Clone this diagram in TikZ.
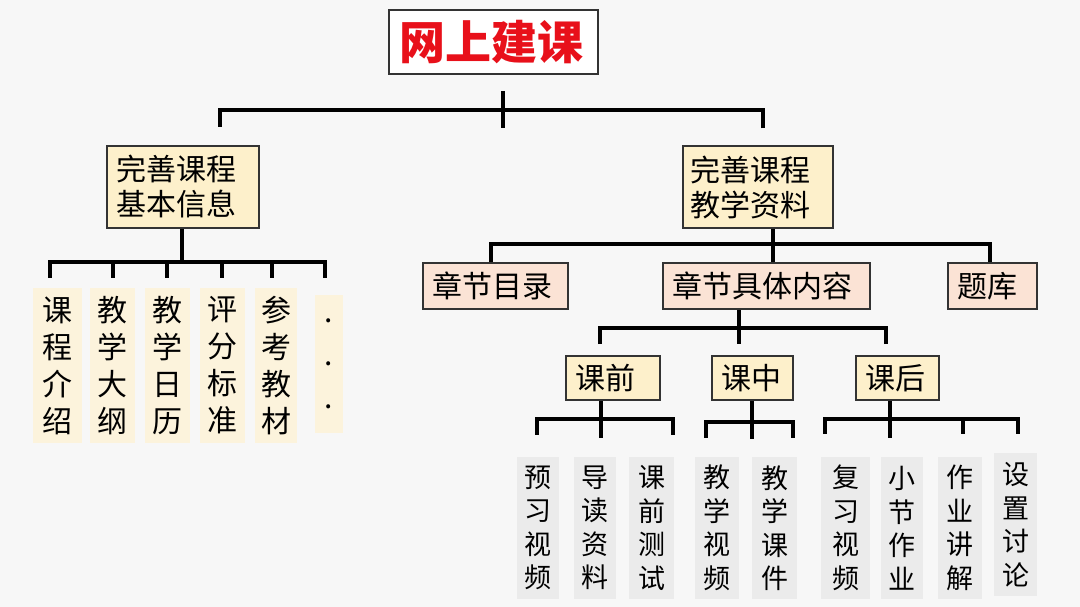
\documentclass[tikz,border=0pt]{standalone}
\usepackage{fontspec}
\setmainfont{Noto Sans CJK SC}
\usepackage{tikz}
\definecolor{bg}{HTML}{F7F7F7}
\definecolor{boxyellow}{HTML}{FDF0CB}
\definecolor{boxpeach}{HTML}{FBE3D5}
\definecolor{colyellow}{HTML}{FCF3DC}
\definecolor{colgray}{HTML}{EBEBEB}
\definecolor{titlered}{HTML}{E8101A}
\definecolor{edge}{HTML}{333333}
\tikzset{%
  every box/.style={
    draw=edge,
    line width=2pt,
    inner xsep=9pt,
    inner ysep=0pt,
    align=left,
    font=\fontsize{30}{35}\selectfont
  },
  box size/.style 2 args={text width=#1-18pt, minimum height=#2},
  title box/.style={every box, fill=white, text=titlered,
    font=\fontsize{46}{50}\selectfont\bfseries},
  yellow box/.style={every box, fill=boxyellow},
  peach box/.style={every box, fill=boxpeach},
  info column/.style={
    fill=colyellow,
    inner sep=0pt,
    align=center,
    font=\fontsize{30}{37}\selectfont
  },
  lesson column/.style={
    fill=colgray,
    inner sep=0pt,
    align=center,
    font=\fontsize{27}{33.5}\selectfont
  },
  bus/.style={line width=4pt, black},
}

\begin{document}
\begin{tikzpicture}[x=1pt, y=-1pt]
\fill[bg] (0,0) rectangle (1080,607);

% top level
\node[title box, box size={209pt}{64pt}, inner xsep=10pt, text width=189pt] (title) at (493.5,42) {网上建课};
\node[yellow box, box size={152pt}{82pt}] (basic) at (183,187) {完善课程\\基本信息};
\node[yellow box, box size={150pt}{82pt}, inner xsep=7pt, text width=136pt] (material) at (758,187.5) {完善课程\\教学资料};

\coordinate (tbus) at (503,110);
\draw[bus] ([xshift=9.5pt,yshift=-16pt]title.south) -- ++(0,37);
\draw[bus] ([xshift=37pt,yshift=18pt]basic.north) |- (tbus);
\draw[bus] ([xshift=5pt,yshift=17pt]material.north) |- (tbus);

% basic information
\foreach \x/\w/\dx/\t [count=\i] in {57.5/49/-7.5/{课\\程\\介\\绍}, 112.5/45/0.5/{教\\学\\大\\纲},
    167.5/45/-0.5/{教\\学\\日\\历}, 222.5/45/-0.5/{评\\分\\标\\准}, 276/42/-4/{参\\考\\教\\材}}
    \node[info column, minimum width=\w pt, minimum height=155pt] (col_\i) at (\x,365.5) {\t};
\node[info column, minimum width=28pt, minimum height=138pt, font=\fontsize{30}{43}\selectfont] (col_6) at (329,364) {.\\.\\.};

\coordinate (lbus) at (182,262);
\draw[bus] ([xshift=-1pt]basic.south) -- (lbus);
\draw[bus] ([xshift=-7.5pt,yshift=10pt]col_1.north) |- (lbus);
\draw[bus] ([xshift=0.5pt,yshift=10pt]col_2.north) |- (lbus);
\draw[bus] ([xshift=-0.5pt,yshift=10pt]col_3.north) |- (lbus);
\draw[bus] ([xshift=-0.5pt,yshift=10pt]col_4.north) |- (lbus);
\draw[bus] ([xshift=-4pt,yshift=10pt]col_5.north) |- (lbus);
\draw[bus] ([xshift=-4pt,yshift=17pt]col_6.north) |- (lbus);

% teaching material
\node[peach box, box size={145pt}{46pt}] (catalog) at (495.5,286) {章节目录};
\node[peach box, box size={207pt}{46pt}] (content) at (766.5,286) {章节具体内容};
\node[peach box, box size={89pt}{46pt}] (bank) at (992.5,286) {题库};

\coordinate (mbus) at (773,244);
\draw[bus] ([xshift=15pt]material.south) -- ([xshift=6.5pt]content.north);
\draw[bus] ([xshift=-4.5pt]catalog.north) |- (mbus);
\draw[bus] ([xshift=-2.5pt]bank.north) |- (mbus);

% chapter content
\node[yellow box, box size={94pt}{44pt}] (pre) at (613,378) {课前};
\node[yellow box, box size={81pt}{44pt}] (mid) at (752.5,378) {课中};
\node[yellow box, box size={83pt}{44pt}] (post) at (897.5,378) {课后};

\coordinate (cbus) at (739,328);
\draw[bus] ([xshift=-27.5pt]content.south) -- ++(0,34);
\draw[bus] ([xshift=-13pt,yshift=11pt]pre.north) |- (cbus);
\draw[bus] ([xshift=-11.5pt,yshift=11pt]post.north) |- (cbus);

% lessons
\foreach \x/\w/\t [count=\i] in {538/42/{预\\习\\视\\频}, 595/42/{导\\读\\资\\料}, 651.5/45/{课\\前\\测\\试},
    717/44/{教\\学\\视\\频}, 774.5/45/{教\\学\\课\\件}, 845.5/49/{复\\习\\视\\频},
    902/42/{小\\节\\作\\业}, 960/44/{作\\业\\讲\\解}}
    \node[lesson column, minimum width=\w pt, minimum height=142pt] (lesson_\i) at (\x,528) {\t};
\node[lesson column, minimum width=43pt, minimum height=143pt] (lesson_9) at (1015.5,524.5) {设\\置\\讨\\论};

\coordinate (prebus) at (601,419);
\draw[bus] ([xshift=-12pt]pre.south) -- ++(0,37);
\draw[bus] ([xshift=-1pt,yshift=22pt]lesson_1.north) |- (prebus);
\draw[bus] ([xshift=21.5pt,yshift=22pt]lesson_3.north) |- (prebus);

\coordinate (midbus) at (752,422);
\draw[bus] ([xshift=-0.5pt]mid.south) -- ++(0,38);
\draw[bus] ([xshift=-11pt,yshift=19pt]lesson_4.north) |- (midbus);
\draw[bus] ([xshift=18.5pt,yshift=19pt]lesson_5.north) |- (midbus);

\coordinate (postbus) at (890,419);
\draw[bus] ([xshift=-7.5pt]post.south) -- ++(0,37);
\draw[bus] ([xshift=-20.5pt,yshift=23pt]lesson_6.north) |- (postbus);
\draw[bus] ([xshift=3pt,yshift=23pt]lesson_8.north) |- (postbus);
\draw[bus] ([xshift=2.5pt,yshift=19pt]lesson_9.north) |- (postbus);
\end{tikzpicture}
\end{document}
